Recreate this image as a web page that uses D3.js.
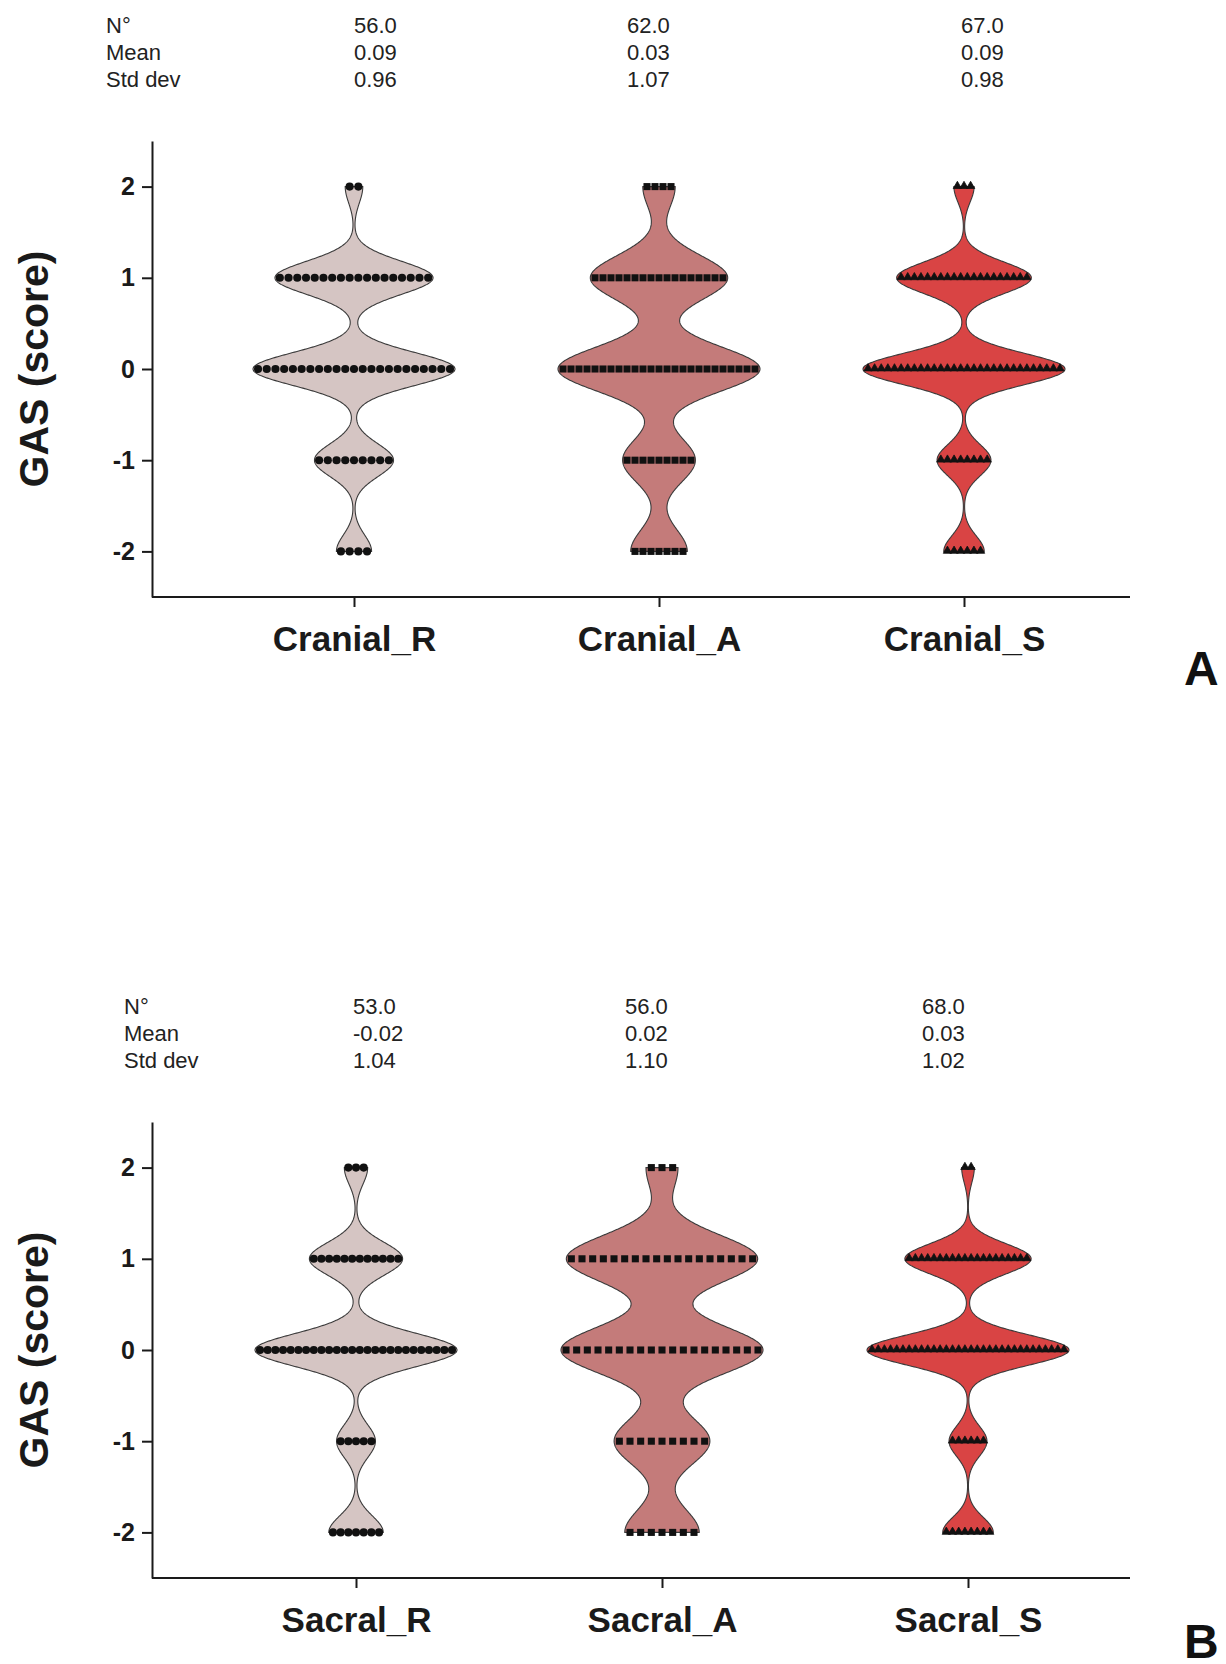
<!DOCTYPE html>
<html>
<head>
<meta charset="utf-8">
<script src="https://cdn.jsdelivr.net/npm/d3@7/dist/d3.min.js"></script>
<style>
  html, body { margin: 0; padding: 0; background: #ffffff; }
  svg { display: block; }
  text { font-family: "Liberation Sans", Arial, Helvetica, sans-serif; }
</style>
</head>
<body>
<svg id="chart" width="1226" height="1664"></svg>
<script>
// ---------- DATA ----------
const cranialCategories = ["Cranial_R", "Cranial_A", "Cranial_S"];
const sacralCategories  = ["Sacral_R", "Sacral_A", "Sacral_S"];
const scoreLevels = [2, 1, 0, -1, -2];          // GAS score levels
// number of subjects at each score level (order: 2, 1, 0, -1, -2)
const cranialR = [2, 18, 23, 9, 4];
const cranialA = [4, 17, 25, 9, 7];
const cranialS = [3, 20, 30, 8, 6];
const sacralR  = [3, 12, 26, 5, 7];
const sacralA  = [3, 18, 19, 9, 7];
const sacralS  = [2, 20, 32, 6, 8];
// smoothing bandwidth of each violin (score units)
const cranialBandwidth = [0.18, 0.245, 0.17];
const sacralBandwidth  = [0.18, 0.26, 0.165];
// summary statistics printed above the panels
const statLabels = ["N°", "Mean", "Std dev"];
const cranialN    = ["56.0", "62.0", "67.0"];
const cranialMean = ["0.09", "0.03", "0.09"];
const cranialSd   = ["0.96", "1.07", "0.98"];
const sacralN     = ["53.0", "56.0", "68.0"];
const sacralMean  = ["-0.02", "0.02", "0.03"];
const sacralSd    = ["1.04", "1.10", "1.02"];
const yTicks = [-2, -1, 0, 1, 2];
const yDomain = [-2.5, 2.5];

// ---------- STYLE ----------
const fills = ["#d5c5c3", "#c47b7a", "#d94444"];
const markers = [d3.symbolCircle, d3.symbolSquare, d3.symbolTriangle];
const markerSizes = [52, 50, 30];
const maxHalfWidth = 101;

const svg = d3.select("#chart");

function drawPanel(cfg) {
  const g = svg.append("g");
  const y = d3.scaleLinear().domain(yDomain).range([cfg.bottom, cfg.top]);
  const x = d3.scalePoint().domain(cfg.cats).range(cfg.xRange);

  // stats table
  const stat = g.append("g").attr("fill", "#222").style("font-size", "22px");
  statLabels.forEach((lab, r) => {
    stat.append("text").attr("x", cfg.statLabelX).attr("y", cfg.statY[r]).text(lab);
  });
  [cfg.n, cfg.mean, cfg.sd].forEach((row, r) => {
    row.forEach((v, c) => {
      stat.append("text").attr("x", cfg.statX[c]).attr("y", cfg.statY[r]).text(v);
    });
  });

  // violins
  cfg.cats.forEach((cat, ci) => {
    const counts = cfg.counts[ci];
    const h = cfg.bw[ci];
    const cx = x(cat);
    const grid = d3.range(-2, 2.0001, 0.005);
    const dens = grid.map(v => ({
      v: v,
      d: d3.sum(scoreLevels, (lv, k) => counts[k] * Math.exp(-((v - lv) ** 2) / (2 * h * h)))
    }));
    const w = d3.scaleLinear().domain([0, d3.max(dens, d => d.d)]).range([0, maxHalfWidth]);
    const area = d3.area()
      .y(d => y(d.v))
      .x0(d => cx - w(d.d))
      .x1(d => cx + w(d.d))
      .curve(d3.curveLinear);
    g.append("path")
      .datum(dens)
      .attr("d", area)
      .attr("fill", fills[ci])
      .attr("stroke", "#3a3a3a")
      .attr("stroke-width", 1.1);

    // points
    const maxCount = d3.max(counts);
    const spacing = (2 * maxHalfWidth - 10) / (maxCount - 1);
    const pts = [];
    scoreLevels.forEach((lv, k) => {
      const n = counts[k];
      for (let i = 0; i < n; i++) pts.push({ v: lv, off: (i - (n - 1) / 2) * spacing });
    });
    const sym = d3.symbol().type(markers[ci]).size(markerSizes[ci]);
    g.append("g").selectAll("path")
      .data(pts)
      .join("path")
      .attr("d", sym)
      .attr("transform", d => `translate(${cx + d.off},${y(d.v) + (ci === 2 ? -0.5 : 0)})`)
      .attr("fill", "#111")
      .attr("stroke", ci === 2 ? "#111" : "none")
      .attr("stroke-width", 0.8);
  });

  // y axis
  const ya = g.append("g")
    .attr("transform", `translate(${cfg.left},0)`)
    .call(d3.axisLeft(y).tickValues(yTicks).tickSize(10).tickSizeOuter(0).tickPadding(7).tickFormat(d => String(d)));
  ya.select(".domain").attr("stroke", "#1a1a1a").attr("stroke-width", 2);
  ya.selectAll(".tick line").attr("stroke", "#1a1a1a").attr("stroke-width", 2);
  ya.selectAll(".tick text")
    .attr("fill", "#1a1a1a")
    .style("font-size", "25px").style("font-weight", "bold")
    .style("font-family", '"Liberation Sans", Arial, sans-serif');

  // x axis
  const xa = g.append("g")
    .attr("transform", `translate(0,${cfg.bottom})`)
    .call(d3.axisBottom(x).tickSize(10).tickSizeOuter(0).tickPadding(19));
  xa.select(".domain").remove();
  xa.append("line")
    .attr("x1", cfg.left).attr("x2", cfg.right)
    .attr("y1", 0).attr("y2", 0)
    .attr("stroke", "#1a1a1a").attr("stroke-width", 2);
  xa.selectAll(".tick line").attr("stroke", "#1a1a1a").attr("stroke-width", 2);
  xa.selectAll(".tick text")
    .attr("fill", "#1a1a1a")
    .style("font-size", "35px").style("font-weight", "bold")
    .style("font-family", '"Liberation Sans", Arial, sans-serif');

  // y label
  g.append("text")
    .attr("transform", `translate(${cfg.yLabelX},${(cfg.top + cfg.bottom) / 2}) rotate(-90)`)
    .attr("text-anchor", "middle")
    .attr("fill", "#1a1a1a")
    .style("font-size", "41px").style("font-weight", "bold")
    .text("GAS (score)");

  // panel letter
  g.append("text")
    .attr("x", 1184).attr("y", cfg.letterY)
    .attr("fill", "#111")
    .style("font-size", "48px").style("font-weight", "bold")
    .text(cfg.letter);
}

drawPanel({
  cats: cranialCategories,
  counts: [cranialR, cranialA, cranialS],
  bw: cranialBandwidth,
  n: cranialN, mean: cranialMean, sd: cranialSd,
  statLabelX: 106, statX: [354, 627, 961], statY: [33, 60, 87],
  top: 141, bottom: 597, left: 152, right: 1130,
  xRange: [354, 964],
  yLabelX: 48, letter: "A", letterY: 685
});

drawPanel({
  cats: sacralCategories,
  counts: [sacralR, sacralA, sacralS],
  bw: sacralBandwidth,
  n: sacralN, mean: sacralMean, sd: sacralSd,
  statLabelX: 124, statX: [353, 625, 922], statY: [1014, 1041, 1068],
  top: 1122, bottom: 1578, left: 152, right: 1130,
  xRange: [356, 968],
  yLabelX: 48, letter: "B", letterY: 1658
});
</script>
</body>
</html>
